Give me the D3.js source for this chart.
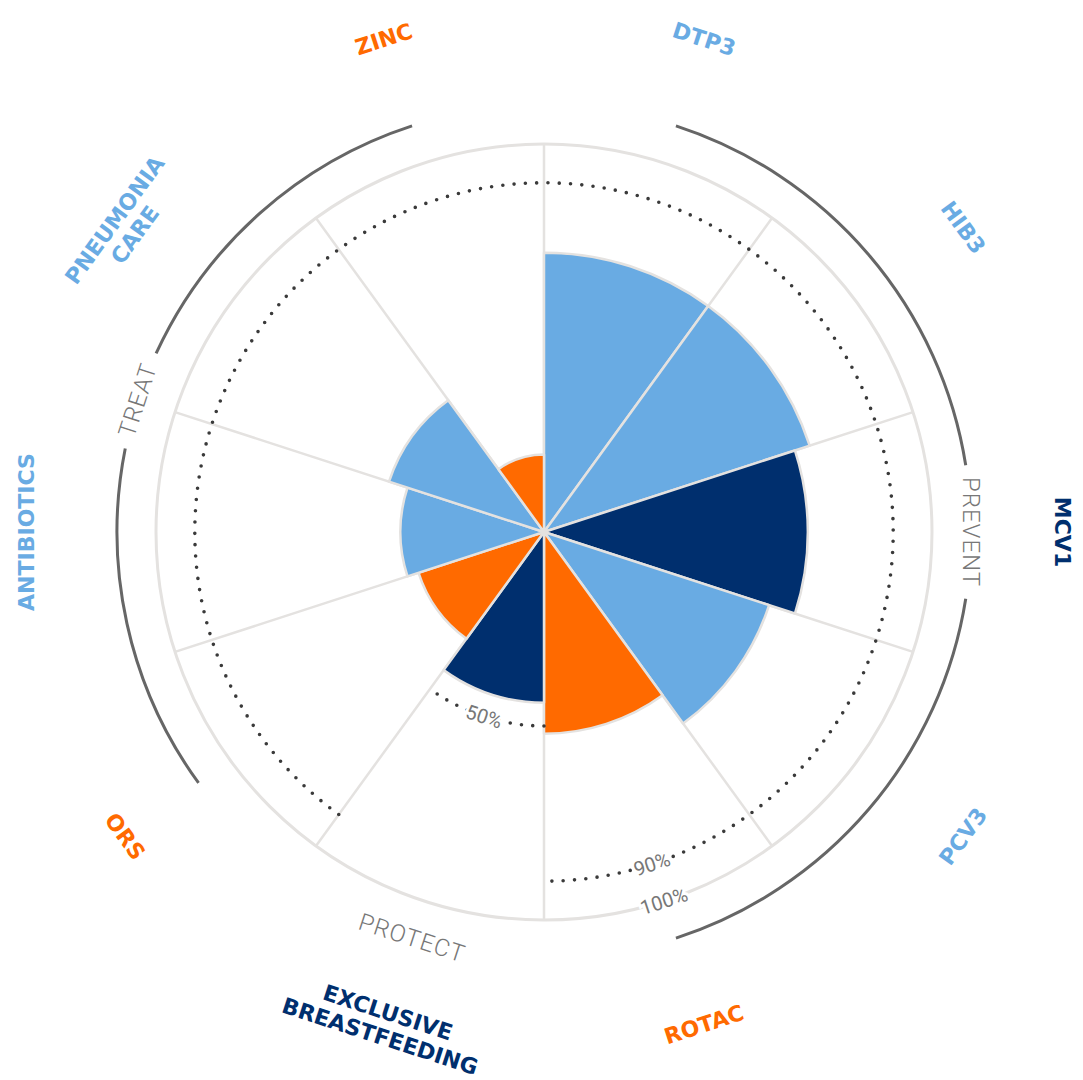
<html>
<head>
<title>Polar coverage</title>
<script src="https://d3js.org/d3.v7.min.js"></script>
<style>
body { margin: 0; background: #fff; }
svg { display: block; }
.cat { font-family: 'DejaVu Sans', sans-serif; font-weight: bold; font-size: 22px; }
.grp { font-family: Roboto, 'DejaVu Sans', sans-serif; font-weight: 300; font-size: 24px; fill: #777; letter-spacing: 1px; }
.pct { font-family: Roboto, 'DejaVu Sans', sans-serif; font-weight: 400; font-size: 20px; fill: #777; }
</style>
</head>
<body>
<svg id="chart" width="1083" height="1080"></svg>
<script type="text/javascript">
// data
var categories = ["DTP3", "HIB3", "MCV1", "PCV3", "ROTAC", "EXCLUSIVE|BREASTFEEDING", "ORS", "ANTIBIOTICS", "PNEUMONIA|CARE", "ZINC"];
var values = [72, 72, 68, 61, 52, 44, 34, 37, 42, 20];
var colorKeys = ["light", "light", "dark", "light", "orange", "dark", "orange", "light", "light", "orange"];
var groupNames = ["PREVENT", "PROTECT", "TREAT"];
var groupFirst = [0, 5, 6];
var groupLast = [4, 5, 9];
// target rings: value, first segment, last segment (wraps)
var targetValues = [90, 50];
var targetFirst = [6, 5];
var targetLast = [14, 5];
var tickLabels = ["90%", "100%", "50%"];
var tickValues = [90, 100, 50];
var tickSegment = [4, 4, 5];

var palette = { light: "#69abe3", dark: "#002f6e", orange: "#ff6a00" };

var width = 1083, height = 1080;
var cx = 544, cy = 532;
var n = categories.length;
var step = 2 * Math.PI / n;

var r = d3.scaleLinear().domain([0, 100]).range([0, 388]);
var groupR = 427;
var labelR = 518;

var svg = d3.select("#chart");
var g = svg.append("g").attr("transform", "translate(" + cx + "," + cy + ")");

function arcPath(radius, a0, a1) {
	var p = d3.path();
	p.arc(0, 0, radius, a0 - Math.PI / 2, a1 - Math.PI / 2, false);
	return p.toString();
}
function rotFor(deg) {
	deg = ((deg % 360) + 360) % 360;
	if (deg > 90 && deg < 270) return deg - 180;
	if (deg >= 270) return deg - 360;
	return deg;
}
function pos(radius, ang) {
	return [radius * Math.sin(ang), -radius * Math.cos(ang)];
}

// grid: spokes and outer circle
g.selectAll("line.spoke").data(d3.range(n)).enter().append("line")
	.attr("class", "spoke")
	.attr("x1", 0).attr("y1", 0)
	.attr("x2", function(i){ return pos(r(100), i * step)[0]; })
	.attr("y2", function(i){ return pos(r(100), i * step)[1]; })
	.attr("stroke", "#e4e2e0").attr("stroke-width", 2.5);

g.append("circle").attr("r", r(100))
	.attr("fill", "none").attr("stroke", "#e4e2e0").attr("stroke-width", 3);

// segments
var arc = d3.arc()
	.innerRadius(0)
	.outerRadius(function(d){ return r(d.value); })
	.startAngle(function(d){ return d.i * step; })
	.endAngle(function(d){ return (d.i + 1) * step; });

var segData = values.map(function(v, i){ return { value: v, i: i }; });
g.selectAll("path.seg").data(segData).enter().append("path")
	.attr("class", "seg")
	.attr("d", arc)
	.attr("fill", function(d){ return palette[colorKeys[d.i]]; })
	.attr("stroke", "#e4e2e0").attr("stroke-width", 2.5)
	.attr("stroke-linejoin", "round");

// target dotted rings
targetValues.forEach(function(v, k){
	g.append("path")
		.attr("d", arcPath(r(v), targetFirst[k] * step, (targetLast[k] + 1) * step))
		.attr("fill", "none").attr("stroke", "#3a3a3a").attr("stroke-width", 3.6)
		.attr("stroke-linecap", "round").attr("stroke-dasharray", "0 11.3");
});

// tick labels with white halo
tickLabels.forEach(function(t, k){
	var ang = (tickSegment[k] + 0.5) * step;
	var p = pos(r(tickValues[k]), ang);
	g.append("text").attr("class", "pct")
		.attr("transform", "translate(" + p[0] + "," + p[1] + ") rotate(" + rotFor(ang * 180 / Math.PI) + ")")
		.attr("text-anchor", "middle").attr("dominant-baseline", "central")
		.attr("stroke", "#fff").attr("stroke-width", 6).attr("paint-order", "stroke")
		.text(t);
});

// group arcs and labels
groupNames.forEach(function(name, k){
	var a0 = (groupFirst[k] + 0.5) * step;
	var a1 = (groupLast[k] + 0.5) * step;
	var mid = (a0 + a1) / 2;
	var p = pos(groupR, mid);
	var txt = g.append("text").attr("class", "grp")
		.attr("transform", "translate(" + p[0] + "," + p[1] + ") rotate(" + rotFor(mid * 180 / Math.PI) + ")")
		.attr("text-anchor", "middle").attr("dominant-baseline", "central")
		.text(name);
	if (a1 > a0) {
		var half = (txt.node().getComputedTextLength() / 2 + 12) / groupR;
		[[a0, mid - half], [mid + half, a1]].forEach(function(seg){
			g.append("path").attr("d", arcPath(groupR, seg[0], seg[1]))
				.attr("fill", "none").attr("stroke", "#666").attr("stroke-width", 3);
		});
	}
});

// category labels
categories.forEach(function(c, i){
	var ang = (i + 0.5) * step;
	var p = pos(labelR, ang);
	var lines = c.split("|");
	var t = g.append("text").attr("class", "cat")
		.attr("transform", "translate(" + p[0] + "," + p[1] + ") rotate(" + rotFor(ang * 180 / Math.PI) + ")")
		.attr("text-anchor", "middle")
		.attr("fill", palette[colorKeys[i]]);
	lines.forEach(function(l, j){
		t.append("tspan").attr("x", 0)
			.attr("y", (j - (lines.length - 1) / 2) * 25)
			.attr("dominant-baseline", "central")
			.text(l);
	});
});
</script>
</body>
</html>
